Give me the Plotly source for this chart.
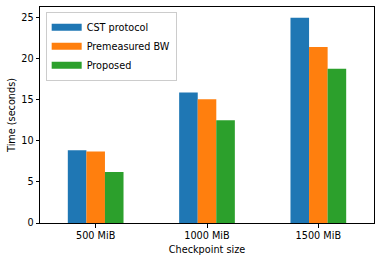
import plotly.graph_objects as go

categories = ["500 MiB", "1000 MiB", "1500 MiB"]
cst = [8.85, 15.85, 24.95]
premeasured = [8.7, 15.05, 21.4]
proposed = [6.2, 12.5, 18.75]
series_names = ["CST protocol", "Premeasured BW", "Proposed"]
colors = ["#1f77b4", "#ff7f0e", "#2ca02c"]

FS = 9.7
fig = go.Figure()
for name, vals, c in zip(series_names, [cst, premeasured, proposed], colors):
    fig.add_trace(go.Bar(x=categories, y=vals, name=name, marker_color=c,
                         marker_line_width=0, width=0.167, showlegend=False,
                         legendgroup=name))
for name, c in zip(series_names, colors):
    fig.add_trace(go.Scatter(x=[None], y=[None], mode="lines", name=name,
                             line=dict(color=c, width=7), legendgroup=name))

fig.update_layout(
    width=381, height=261,
    margin=dict(l=40, r=7, t=7, b=38),
    barmode="group", bargap=0.5, bargroupgap=0,
    plot_bgcolor="white", paper_bgcolor="white",
    font=dict(family="DejaVu Sans", size=FS, color="black"),
    showlegend=True,
    legend=dict(x=0.017, y=0.978, xanchor="left", yanchor="top",
                bordercolor="#cccccc", borderwidth=1, bgcolor="rgba(255,255,255,0.8)",
                font=dict(size=FS), tracegroupgap=0),
)
fig.update_xaxes(range=[-0.5, 2.5], showline=True, linecolor="black", linewidth=1,
                 mirror=True, ticks="outside", ticklen=3.5, tickcolor="black",
                 automargin=False, tickfont=dict(size=FS),
                 title=dict(text="Checkpoint size", standoff=6, font=dict(size=FS)),
                 showgrid=False)
fig.update_yaxes(range=[0, 26.25], tickvals=[0, 5, 10, 15, 20, 25],
                 showline=True, linecolor="black", linewidth=1, mirror=True,
                 ticks="outside", ticklen=3.5, tickcolor="black", automargin=False,
                 tickfont=dict(size=FS),
                 title=dict(text="Time (seconds)", standoff=3, font=dict(size=FS)),
                 showgrid=False, zeroline=False)

fig.write_html("out.html", config={"displayModeBar": False},
               post_script="document.body.style.margin='0';")
